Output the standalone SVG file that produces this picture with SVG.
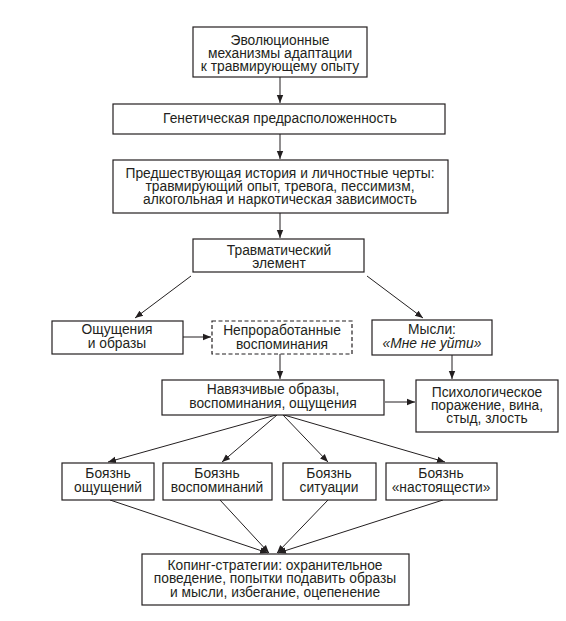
<svg xmlns="http://www.w3.org/2000/svg" width="566" height="621" viewBox="0 0 566 621">
<defs>
<style>
.box{fill:#fff;stroke:#231f20;stroke-width:1.2}
.dash{stroke-dasharray:4 2.5}
text{font-family:"Liberation Sans",Arial,sans-serif;font-size:13.8px;fill:#231f20;text-anchor:middle}
.it{font-style:italic}
.c line{stroke:#231f20;stroke-width:1;marker-end:url(#ah)}
</style>
<marker id="ah" markerUnits="userSpaceOnUse" markerWidth="10" markerHeight="10" refX="8" refY="4" orient="auto">
<path d="M0,0.8 L8,4 L0,7.2 Z" fill="#231f20"/>
</marker>
</defs>
<rect width="566" height="621" fill="#fff"/>
<g class="c" id="connectors">
<line x1="280" y1="77" x2="280" y2="103"/>
<line x1="280" y1="134" x2="280" y2="159"/>
<line x1="280" y1="213" x2="280" y2="238"/>
<line x1="191" y1="276" x2="135" y2="318"/>
<line x1="367" y1="276" x2="423" y2="318"/>
<line x1="183" y1="337" x2="211" y2="337"/>
<line x1="280" y1="354" x2="280" y2="379"/>
<line x1="452" y1="355" x2="452" y2="379"/>
<line x1="385" y1="402" x2="415" y2="402"/>
<line x1="276" y1="415" x2="108" y2="462"/>
<line x1="277" y1="415" x2="222" y2="462"/>
<line x1="283" y1="415" x2="328" y2="462"/>
<line x1="284" y1="415" x2="445" y2="462"/>
<line x1="110" y1="500" x2="268" y2="553"/>
<line x1="220" y1="500" x2="269" y2="553"/>
<line x1="328" y1="500" x2="277" y2="553"/>
<line x1="443" y1="500" x2="278" y2="553"/>
</g>
<g id="n1"><rect class="box" x="193" y="27" width="174" height="50"/>
<text x="280" y="45">Эволюционные</text><text x="280" y="58">механизмы адаптации</text><text x="280" y="71">к травмирующему опыту</text></g>
<g id="n2"><rect class="box" x="113" y="104" width="332" height="30"/>
<text x="280" y="123">Генетическая предрасположенность</text></g>
<g id="n3"><rect class="box" x="113" y="160" width="335" height="53"/>
<text x="280" y="178">Предшествующая история и личностные черты:</text><text x="280" y="191">травмирующий опыт, тревога, пессимизм,</text><text x="280" y="204">алкогольная и наркотическая зависимость</text></g>
<g id="n4"><rect class="box" x="193" y="239" width="171" height="33"/>
<text x="279" y="255">Травматический</text><text x="279" y="268">элемент</text></g>
<g id="n5"><rect class="box" x="52" y="321" width="131" height="33"/>
<text x="117" y="334">Ощущения</text><text x="117" y="348">и образы</text></g>
<g id="n6"><rect class="box dash" x="212" y="321" width="140" height="33"/>
<text x="282" y="335">Непроработанные</text><text x="282" y="349">воспоминания</text></g>
<g id="n7"><rect class="box" x="372" y="320" width="120" height="35"/>
<text x="432" y="334">Мысли:</text><text class="it" x="432" y="348">«Мне не уйти»</text></g>
<g id="n8"><rect class="box" x="162" y="380" width="222" height="35"/>
<text x="273" y="394">Навязчивые образы,</text><text x="273" y="408">воспоминания, ощущения</text></g>
<g id="n9"><rect class="box" x="416" y="380" width="142" height="52"/>
<text x="487" y="397">Психологическое</text><text x="487" y="410">поражение, вина,</text><text x="487" y="423">стыд, злость</text></g>
<g id="n10"><rect class="box" x="62" y="463" width="92" height="37"/>
<text x="108" y="478">Боязнь</text><text x="108" y="492">ощущений</text></g>
<g id="n11"><rect class="box" x="163" y="463" width="109" height="37"/>
<text x="217" y="478">Боязнь</text><text x="217" y="492">воспоминаний</text></g>
<g id="n12"><rect class="box" x="283" y="463" width="93" height="37"/>
<text x="329" y="478">Боязнь</text><text x="329" y="492">ситуации</text></g>
<g id="n13"><rect class="box" x="386" y="463" width="111" height="37"/>
<text x="441" y="478">Боязнь</text><text x="441" y="492">«настоящести»</text></g>
<g id="n14"><rect class="box" x="142" y="554" width="267" height="51"/>
<text x="275" y="570">Копинг-стратегии: охранительное</text><text x="275" y="583">поведение, попытки подавить образы</text><text x="275" y="597">и мысли, избегание, оцепенение</text></g>
</svg>
